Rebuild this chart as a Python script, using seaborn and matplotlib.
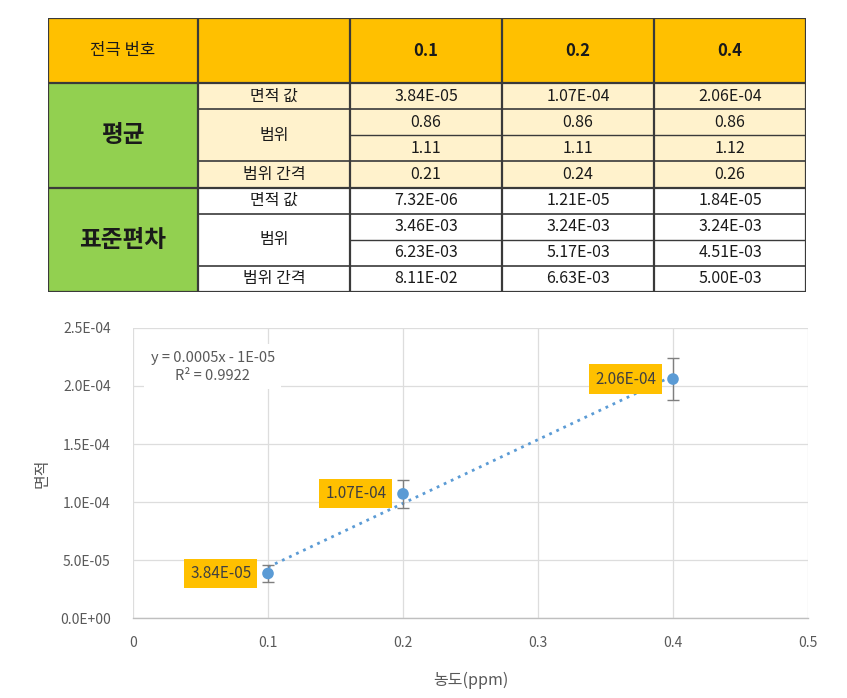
import numpy as np
import pandas as pd
import matplotlib
matplotlib.use("Agg")
import matplotlib.pyplot as plt
from matplotlib.patches import Rectangle
from matplotlib.ticker import FuncFormatter
import seaborn as sns

# ---------------- data ----------------
conc_labels = ["0.1", "0.2", "0.4"]
header_label = "전극 번호"
group_labels = ["평균", "표준편차"]
row_area = "면적 값"
row_range = "범위"
row_gap = "범위 간격"

mean_area = ["3.84E-05", "1.07E-04", "2.06E-04"]
mean_range_low = ["0.86", "0.86", "0.86"]
mean_range_high = ["1.11", "1.11", "1.12"]
mean_range_gap = ["0.21", "0.24", "0.26"]

sd_area = ["7.32E-06", "1.21E-05", "1.84E-05"]
sd_range_low = ["3.46E-03", "3.24E-03", "3.24E-03"]
sd_range_high = ["6.23E-03", "5.17E-03", "4.51E-03"]
sd_range_gap = ["8.11E-02", "6.63E-03", "5.00E-03"]

x_ticks = [0, 0.1, 0.2, 0.3, 0.4, 0.5]
y_ticks = [0, 5e-5, 1e-4, 1.5e-4, 2e-4, 2.5e-4]
x_label = "농도(ppm)"
y_label = "면적"
equation_text = "y = 0.0005x - 1E-05\nR² = 0.9922"

# ---------------- style ----------------
sns.set_style("white")
FONT = ["Noto Sans CJK KR", "DejaVu Sans"]
plt.rcParams["font.family"] = FONT

ORANGE = "#FFC000"
GREEN = "#92D050"
LIGHT = "#FFF2CC"
LINE = "#3A3A3A"
GREY_TXT = "#595959"
BLUE = "#5B9BD5"

W, H = 847, 698
fig = plt.figure(figsize=(W / 100, H / 100), dpi=100)

# ---------------- table ----------------
tx0, ty0, tw, th = 48, 18, 758, 274
tab = fig.add_axes([tx0 / W, 1 - (ty0 + th) / H, tw / W, th / H])
tab.set_xlim(0, tw)
tab.set_ylim(th, 0)
tab.axis("off")

col_edges = [0, 150, 302, 454, 606, 758]
head_h = 65
row_h = 26.125
row_edges = [0, head_h] + [head_h + row_h * (i + 1) for i in range(8)]


def rect(x0, x1, y0, y1, color):
    tab.add_patch(Rectangle((x0, y0), x1 - x0, y1 - y0, facecolor=color,
                            edgecolor="none", zorder=1))


def hline(y, x0, x1, lw=1.2):
    tab.plot([x0, x1], [y, y], color=LINE, lw=lw, zorder=3, solid_capstyle="butt")


def vline(x, y0, y1, lw=1.2):
    tab.plot([x, x], [y0, y1], color=LINE, lw=lw, zorder=3, solid_capstyle="butt")


def txt(x, y, s, size=11.5, weight="normal"):
    tab.text(x, y, s, ha="center", va="center", fontsize=size,
             fontweight=weight, color="#1A1A1A", family=FONT, zorder=4)


# fills
rect(0, tw, 0, head_h, ORANGE)
rect(0, col_edges[1], head_h, th, GREEN)
rect(col_edges[1], tw, row_edges[1], row_edges[5], LIGHT)
rect(col_edges[1], tw, row_edges[5], th, "white")

# header
txt(col_edges[0] + 75, head_h / 2, header_label, size=12)
for j, lab in enumerate(conc_labels):
    cx = (col_edges[j + 2] + col_edges[j + 3]) / 2
    txt(cx, head_h / 2, lab, size=12, weight="bold")

groups = [
    (mean_area, mean_range_low, mean_range_high, mean_range_gap),
    (sd_area, sd_range_low, sd_range_high, sd_range_gap),
]
for g, (area, lo, hi, gap) in enumerate(groups):
    base = 1 + 4 * g
    ytop = row_edges[base]
    ybot = row_edges[base + 4]
    txt(75, (ytop + ybot) / 2, group_labels[g], size=17, weight="bold")
    c1 = (col_edges[1] + col_edges[2]) / 2
    txt(c1, (row_edges[base] + row_edges[base + 1]) / 2, row_area)
    txt(c1, (row_edges[base + 1] + row_edges[base + 3]) / 2, row_range)
    txt(c1, (row_edges[base + 3] + row_edges[base + 4]) / 2, row_gap)
    for k, vals in enumerate([area, lo, hi, gap]):
        yc = (row_edges[base + k] + row_edges[base + k + 1]) / 2
        for j, v in enumerate(vals):
            cx = (col_edges[j + 2] + col_edges[j + 3]) / 2
            txt(cx, yc, v)
    # inner horizontal lines
    hline(row_edges[base + 1], col_edges[1], tw)
    hline(row_edges[base + 2], col_edges[2], tw, lw=1.0)
    hline(row_edges[base + 3], col_edges[1], tw)

# structural lines
hline(0, 0, tw, lw=1.6)
hline(th, 0, tw, lw=1.6)
hline(head_h, 0, tw, lw=1.6)
hline(row_edges[5], 0, tw, lw=1.6)
for x in col_edges:
    vline(x, 0, th, lw=1.6)

# ---------------- chart ----------------
ax_l, ax_r, ax_t, ax_b = 133, 808, 328, 618
ax = fig.add_axes([ax_l / W, 1 - ax_b / H, (ax_r - ax_l) / W, (ax_b - ax_t) / H])

df = pd.DataFrame({
    "conc": [float(c) for c in conc_labels],
    "area": [float(v) for v in mean_area],
    "sd": [float(v) for v in sd_area],
    "label": mean_area,
})

ax.set_xlim(0, 0.5)
ax.set_ylim(0, 2.5e-4)
ax.set_xticks(x_ticks)
ax.set_yticks(y_ticks)
ax.xaxis.set_major_formatter(FuncFormatter(lambda v, p: "0" if v == 0 else f"{v:g}"))
ax.yaxis.set_major_formatter(FuncFormatter(lambda v, p: f"{v:.1E}"))
ax.grid(True, color="#DDDDDD", lw=0.9)
ax.set_axisbelow(True)
for s in ["top", "right", "left"]:
    ax.spines[s].set_visible(False)
ax.spines["bottom"].set_color("#BFBFBF")
ax.spines["bottom"].set_linewidth(1.0)
ax.tick_params(axis="both", length=0, colors=GREY_TXT, labelsize=10)
ax.tick_params(axis="y", pad=16)
ax.tick_params(axis="x", pad=13)

# trend line
sns.regplot(data=df, x="conc", y="area", ax=ax, scatter=False, ci=None,
            truncate=True,
            line_kws=dict(color=BLUE, ls=(0, (1, 1.8)), lw=2.0, zorder=3))

# error bars
ax.errorbar(df["conc"], df["area"], yerr=df["sd"], fmt="none",
            ecolor="#7F7F7F", elinewidth=1.0, capsize=4, capthick=1.0, zorder=4)
sns.scatterplot(data=df, x="conc", y="area", ax=ax, color=BLUE, s=70,
                edgecolor="none", zorder=5, legend=False)

for _, r in df.iterrows():
    ax.annotate(r["label"], (r["conc"], r["area"]), xytext=(-12, 0),
                textcoords="offset points", ha="right", va="center",
                fontsize=11, color="#404040", family=FONT, zorder=6,
                bbox=dict(boxstyle="square,pad=0.4", facecolor=ORANGE,
                          edgecolor="none"))

ax.text(0.059, 2.165e-4, equation_text, ha="center", va="center",
        fontsize=10.5, color=GREY_TXT, family=FONT, linespacing=1.35,
        bbox=dict(boxstyle="square,pad=0.45", facecolor="white",
                  edgecolor="none"), zorder=6)

ax.set_xlabel(x_label, fontsize=11.5, color=GREY_TXT, labelpad=16)
ax.set_ylabel(y_label, fontsize=11.5, color=GREY_TXT, labelpad=7)

fig.savefig("out.png", dpi=100)
